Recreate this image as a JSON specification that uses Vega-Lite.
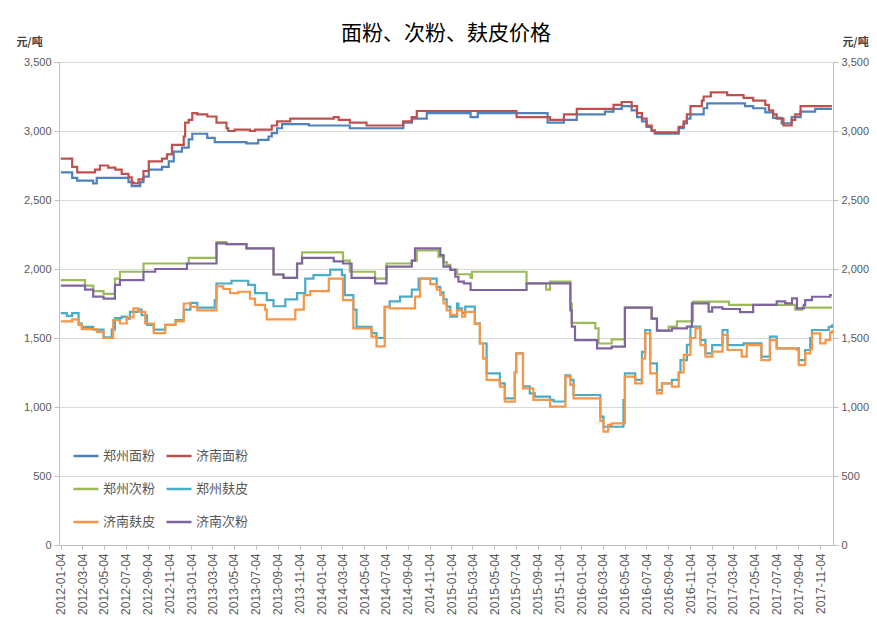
{
"$schema": "https://vega.github.io/schema/vega-lite/v6.json",
"width": 774, "height": 483,
"autosize": {"type": "none"},
"padding": {"left": 59, "top": 62, "right": 44, "bottom": 72},
"background": "white",
"title": {"text": "面粉、次粉、麸皮价格", "font": "Noto Sans CJK SC", "fontSize": 21, "fontWeight": "normal", "color": "#000000", "offset": -8, "anchor": "middle"},
"config": {"view": {"stroke": null}},
"data": {"values": [
{"series":"郑州面粉","date":"2012-01-04","price":2700},{"series":"郑州面粉","date":"2012-02-05","price":2660},{"series":"郑州面粉","date":"2012-02-19","price":2640},{"series":"郑州面粉","date":"2012-04-04","price":2620},{"series":"郑州面粉","date":"2012-04-14","price":2660},{"series":"郑州面粉","date":"2012-07-12","price":2630},{"series":"郑州面粉","date":"2012-07-21","price":2600},{"series":"郑州面粉","date":"2012-08-14","price":2630},{"series":"郑州面粉","date":"2012-08-23","price":2670},{"series":"郑州面粉","date":"2012-09-07","price":2720},{"series":"郑州面粉","date":"2012-10-14","price":2740},{"series":"郑州面粉","date":"2012-11-02","price":2780},{"series":"郑州面粉","date":"2012-11-16","price":2850},{"series":"郑州面粉","date":"2012-12-09","price":2880},{"series":"郑州面粉","date":"2012-12-28","price":2940},{"series":"郑州面粉","date":"2013-01-07","price":2980},{"series":"郑州面粉","date":"2013-02-18","price":2950},{"series":"郑州面粉","date":"2013-03-11","price":2920},{"series":"郑州面粉","date":"2013-06-08","price":2910},{"series":"郑州面粉","date":"2013-07-11","price":2935},{"series":"郑州面粉","date":"2013-08-09","price":2960},{"series":"郑州面粉","date":"2013-08-18","price":2985},{"series":"郑州面粉","date":"2013-09-02","price":3020},{"series":"郑州面粉","date":"2013-09-16","price":3050},{"series":"郑州面粉","date":"2013-11-30","price":3040},{"series":"郑州面粉","date":"2014-03-25","price":3020},{"series":"郑州面粉","date":"2014-08-22","price":3060},{"series":"郑州面粉","date":"2014-09-15","price":3090},{"series":"郑州面粉","date":"2014-10-27","price":3130},{"series":"郑州面粉","date":"2015-02-27","price":3100},{"series":"郑州面粉","date":"2015-03-19","price":3130},{"series":"郑州面粉","date":"2015-10-01","price":3060},{"series":"郑州面粉","date":"2015-11-16","price":3080},{"series":"郑州面粉","date":"2015-12-22","price":3120},{"series":"郑州面粉","date":"2016-03-10","price":3140},{"series":"郑州面粉","date":"2016-04-03","price":3160},{"series":"郑州面粉","date":"2016-04-26","price":3180},{"series":"郑州面粉","date":"2016-05-24","price":3150},{"series":"郑州面粉","date":"2016-06-08","price":3100},{"series":"郑州面粉","date":"2016-06-22","price":3070},{"series":"郑州面粉","date":"2016-07-05","price":3030},{"series":"郑州面粉","date":"2016-07-19","price":3000},{"series":"郑州面粉","date":"2016-07-28","price":2980},{"series":"郑州面粉","date":"2016-10-03","price":3020},{"series":"郑州面粉","date":"2016-10-17","price":3055},{"series":"郑州面粉","date":"2016-10-26","price":3090},{"series":"郑州面粉","date":"2016-11-05","price":3120},{"series":"郑州面粉","date":"2016-12-12","price":3165},{"series":"郑州面粉","date":"2016-12-22","price":3200},{"series":"郑州面粉","date":"2017-04-07","price":3180},{"series":"郑州面粉","date":"2017-04-30","price":3165},{"series":"郑州面粉","date":"2017-06-03","price":3135},{"series":"郑州面粉","date":"2017-06-25","price":3095},{"series":"郑州面粉","date":"2017-07-19","price":3055},{"series":"郑州面粉","date":"2017-08-16","price":3100},{"series":"郑州面粉","date":"2017-09-10","price":3140},{"series":"郑州面粉","date":"2017-10-21","price":3160},{"series":"郑州面粉","date":"2017-12-07","price":3160},

{"series":"济南面粉","date":"2012-01-04","price":2800},{"series":"济南面粉","date":"2012-02-05","price":2740},{"series":"济南面粉","date":"2012-02-19","price":2700},{"series":"济南面粉","date":"2012-04-09","price":2720},{"series":"济南面粉","date":"2012-04-23","price":2750},{"series":"济南面粉","date":"2012-05-16","price":2735},{"series":"济南面粉","date":"2012-06-05","price":2720},{"series":"济南面粉","date":"2012-06-23","price":2690},{"series":"济南面粉","date":"2012-07-12","price":2665},{"series":"济南面粉","date":"2012-07-21","price":2630},{"series":"济南面粉","date":"2012-07-25","price":2620},{"series":"济南面粉","date":"2012-08-09","price":2650},{"series":"济南面粉","date":"2012-08-23","price":2710},{"series":"济南面粉","date":"2012-09-07","price":2780},{"series":"济南面粉","date":"2012-10-14","price":2800},{"series":"济南面粉","date":"2012-10-28","price":2830},{"series":"济南面粉","date":"2012-11-11","price":2900},{"series":"济南面粉","date":"2012-12-14","price":2960},{"series":"济南面粉","date":"2012-12-18","price":3060},{"series":"济南面粉","date":"2012-12-28","price":3080},{"series":"济南面粉","date":"2013-01-07","price":3130},{"series":"济南面粉","date":"2013-01-21","price":3120},{"series":"济南面粉","date":"2013-02-18","price":3105},{"series":"济南面粉","date":"2013-03-16","price":3060},{"series":"济南面粉","date":"2013-04-13","price":3020},{"series":"济南面粉","date":"2013-04-18","price":3000},{"series":"济南面粉","date":"2013-05-06","price":3010},{"series":"济南面粉","date":"2013-06-18","price":3000},{"series":"济南面粉","date":"2013-07-02","price":3010},{"series":"济南面粉","date":"2013-08-18","price":3040},{"series":"济南面粉","date":"2013-09-02","price":3070},{"series":"济南面粉","date":"2013-10-09","price":3090},{"series":"济南面粉","date":"2014-02-08","price":3100},{"series":"济南面粉","date":"2014-02-22","price":3080},{"series":"济南面粉","date":"2014-03-25","price":3060},{"series":"济南面粉","date":"2014-05-11","price":3040},{"series":"济南面粉","date":"2014-08-22","price":3070},{"series":"济南面粉","date":"2014-09-15","price":3100},{"series":"济南面粉","date":"2014-09-29","price":3145},{"series":"济南面粉","date":"2015-07-06","price":3100},{"series":"济南面粉","date":"2015-10-08","price":3080},{"series":"济南面粉","date":"2015-11-16","price":3120},{"series":"济南面粉","date":"2015-12-22","price":3160},{"series":"济南面粉","date":"2016-04-03","price":3190},{"series":"济南面粉","date":"2016-04-26","price":3210},{"series":"济南面粉","date":"2016-05-24","price":3180},{"series":"济南面粉","date":"2016-06-08","price":3130},{"series":"济南面粉","date":"2016-06-22","price":3090},{"series":"济南面粉","date":"2016-07-05","price":3040},{"series":"济南面粉","date":"2016-07-19","price":3005},{"series":"济南面粉","date":"2016-07-28","price":2990},{"series":"济南面粉","date":"2016-10-03","price":3030},{"series":"济南面粉","date":"2016-10-17","price":3070},{"series":"济南面粉","date":"2016-10-26","price":3120},{"series":"济南面粉","date":"2016-11-05","price":3180},{"series":"济南面粉","date":"2016-12-07","price":3220},{"series":"济南面粉","date":"2016-12-12","price":3250},{"series":"济南面粉","date":"2017-01-01","price":3280},{"series":"济南面粉","date":"2017-02-16","price":3260},{"series":"济南面粉","date":"2017-04-03","price":3240},{"series":"济南面粉","date":"2017-04-30","price":3220},{"series":"济南面粉","date":"2017-06-03","price":3190},{"series":"济南面粉","date":"2017-06-13","price":3150},{"series":"济南面粉","date":"2017-06-25","price":3120},{"series":"济南面粉","date":"2017-07-05","price":3090},{"series":"济南面粉","date":"2017-07-24","price":3040},{"series":"济南面粉","date":"2017-08-16","price":3080},{"series":"济南面粉","date":"2017-08-26","price":3120},{"series":"济南面粉","date":"2017-09-10","price":3180},{"series":"济南面粉","date":"2017-12-07","price":3180},

{"series":"郑州次粉","date":"2012-01-04","price":1920},{"series":"郑州次粉","date":"2012-03-12","price":1880},{"series":"郑州次粉","date":"2012-04-04","price":1840},{"series":"郑州次粉","date":"2012-05-03","price":1820},{"series":"郑州次粉","date":"2012-06-04","price":1930},{"series":"郑州次粉","date":"2012-06-18","price":1980},{"series":"郑州次粉","date":"2012-08-23","price":2040},{"series":"郑州次粉","date":"2012-12-28","price":2080},{"series":"郑州次粉","date":"2013-03-16","price":2195},{"series":"郑州次粉","date":"2013-04-13","price":2180},{"series":"郑州次粉","date":"2013-06-08","price":2150},{"series":"郑州次粉","date":"2013-08-23","price":1960},{"series":"郑州次粉","date":"2013-09-20","price":1935},{"series":"郑州次粉","date":"2013-10-28","price":2040},{"series":"郑州次粉","date":"2013-11-11","price":2120},{"series":"郑州次粉","date":"2014-03-06","price":2060},{"series":"郑州次粉","date":"2014-03-25","price":1980},{"series":"郑州次粉","date":"2014-06-04","price":1930},{"series":"郑州次粉","date":"2014-07-06","price":2040},{"series":"郑州次粉","date":"2014-09-15","price":2060},{"series":"郑州次粉","date":"2014-09-29","price":2135},{"series":"郑州次粉","date":"2014-11-29","price":2090},{"series":"郑州次粉","date":"2014-12-13","price":2050},{"series":"郑州次粉","date":"2014-12-22","price":2030},{"series":"郑州次粉","date":"2015-01-01","price":1995},{"series":"郑州次粉","date":"2015-01-20","price":1962},{"series":"郑州次粉","date":"2015-02-27","price":1935},{"series":"郑州次粉","date":"2015-03-03","price":1980},{"series":"郑州次粉","date":"2015-08-03","price":1895},{"series":"郑州次粉","date":"2015-09-27","price":1850},{"series":"郑州次粉","date":"2015-10-08","price":1908},{"series":"郑州次粉","date":"2015-12-04","price":1750},{"series":"郑州次粉","date":"2015-12-08","price":1610},{"series":"郑州次粉","date":"2016-02-12","price":1570},{"series":"郑州次粉","date":"2016-02-21","price":1460},{"series":"郑州次粉","date":"2016-03-29","price":1490},{"series":"郑州次粉","date":"2016-05-05","price":1720},{"series":"郑州次粉","date":"2016-07-19","price":1640},{"series":"郑州次粉","date":"2016-08-03","price":1553},{"series":"郑州次粉","date":"2016-09-05","price":1582},{"series":"郑州次粉","date":"2016-09-28","price":1620},{"series":"郑州次粉","date":"2016-11-12","price":1763},{"series":"郑州次粉","date":"2017-02-21","price":1740},{"series":"郑州次粉","date":"2017-08-26","price":1705},{"series":"郑州次粉","date":"2017-09-14","price":1720},{"series":"郑州次粉","date":"2017-12-07","price":1720},

{"series":"郑州麸皮","date":"2012-01-04","price":1680},{"series":"郑州麸皮","date":"2012-01-21","price":1660},{"series":"郑州麸皮","date":"2012-02-05","price":1680},{"series":"郑州麸皮","date":"2012-02-23","price":1605},{"series":"郑州麸皮","date":"2012-03-03","price":1580},{"series":"郑州麸皮","date":"2012-04-04","price":1560},{"series":"郑州麸皮","date":"2012-05-03","price":1505},{"series":"郑州麸皮","date":"2012-05-26","price":1560},{"series":"郑州麸皮","date":"2012-06-04","price":1645},{"series":"郑州麸皮","date":"2012-06-23","price":1655},{"series":"郑州麸皮","date":"2012-07-07","price":1640},{"series":"郑州麸皮","date":"2012-07-16","price":1690},{"series":"郑州麸皮","date":"2012-08-09","price":1705},{"series":"郑州麸皮","date":"2012-08-18","price":1665},{"series":"郑州麸皮","date":"2012-09-02","price":1595},{"series":"郑州麸皮","date":"2012-09-21","price":1560},{"series":"郑州麸皮","date":"2012-10-23","price":1595},{"series":"郑州麸皮","date":"2012-11-21","price":1630},{"series":"郑州麸皮","date":"2012-12-14","price":1705},{"series":"郑州麸皮","date":"2013-01-02","price":1755},{"series":"郑州麸皮","date":"2013-01-21","price":1720},{"series":"郑州麸皮","date":"2013-03-11","price":1775},{"series":"郑州麸皮","date":"2013-03-16","price":1895},{"series":"郑州麸皮","date":"2013-04-27","price":1915},{"series":"郑州麸皮","date":"2013-06-13","price":1885},{"series":"郑州麸皮","date":"2013-07-02","price":1825},{"series":"郑州麸皮","date":"2013-08-04","price":1775},{"series":"郑州麸皮","date":"2013-08-23","price":1730},{"series":"郑州麸皮","date":"2013-09-25","price":1780},{"series":"郑州麸皮","date":"2013-10-28","price":1825},{"series":"郑州麸皮","date":"2013-11-20","price":1930},{"series":"郑州麸皮","date":"2013-12-13","price":1955},{"series":"郑州麸皮","date":"2014-01-29","price":1995},{"series":"郑州麸皮","date":"2014-03-03","price":1955},{"series":"郑州麸皮","date":"2014-03-11","price":1810},{"series":"郑州麸皮","date":"2014-04-04","price":1705},{"series":"郑州麸皮","date":"2014-04-13","price":1580},{"series":"郑州麸皮","date":"2014-05-25","price":1535},{"series":"郑州麸皮","date":"2014-06-08","price":1500},{"series":"郑州麸皮","date":"2014-07-01","price":1725},{"series":"郑州麸皮","date":"2014-07-15","price":1765},{"series":"郑州麸皮","date":"2014-08-13","price":1800},{"series":"郑州麸皮","date":"2014-09-15","price":1850},{"series":"郑州麸皮","date":"2014-10-04","price":1930},{"series":"郑州麸皮","date":"2014-11-24","price":1870},{"series":"郑州麸皮","date":"2014-12-04","price":1830},{"series":"郑州麸皮","date":"2014-12-13","price":1780},{"series":"郑州麸皮","date":"2014-12-22","price":1727},{"series":"郑州麸皮","date":"2015-01-01","price":1655},{"series":"郑州麸皮","date":"2015-01-20","price":1750},{"series":"郑州麸皮","date":"2015-01-24","price":1715},{"series":"郑州麸皮","date":"2015-02-03","price":1680},{"series":"郑州麸皮","date":"2015-02-12","price":1727},{"series":"郑州麸皮","date":"2015-03-11","price":1606},{"series":"郑州麸皮","date":"2015-03-25","price":1460},{"series":"郑州麸皮","date":"2015-04-13","price":1244},{"series":"郑州麸皮","date":"2015-05-20","price":1171},{"series":"郑州麸皮","date":"2015-06-03","price":1063},{"series":"郑州麸皮","date":"2015-07-01","price":1250},{"series":"郑州麸皮","date":"2015-07-05","price":1389},{"series":"郑州麸皮","date":"2015-07-24","price":1150},{"series":"郑州麸皮","date":"2015-08-12","price":1099},{"series":"郑州麸皮","date":"2015-08-26","price":1075},{"series":"郑州麸皮","date":"2015-10-08","price":1051},{"series":"郑州麸皮","date":"2015-10-18","price":1040},{"series":"郑州麸皮","date":"2015-11-20","price":1230},{"series":"郑州麸皮","date":"2015-12-04","price":1196},{"series":"郑州麸皮","date":"2015-12-13","price":1087},{"series":"郑州麸皮","date":"2016-02-26","price":930},{"series":"郑州麸皮","date":"2016-03-06","price":857},{"series":"郑州麸皮","date":"2016-05-01","price":1050},{"series":"郑州麸皮","date":"2016-05-05","price":1244},{"series":"郑州麸皮","date":"2016-06-03","price":1196},{"series":"郑州麸皮","date":"2016-06-22","price":1400},{"series":"郑州麸皮","date":"2016-07-01","price":1558},{"series":"郑州麸皮","date":"2016-07-15","price":1316},{"series":"郑州麸皮","date":"2016-08-03","price":1123},{"series":"郑州麸皮","date":"2016-08-17","price":1171},{"series":"郑州麸皮","date":"2016-09-14","price":1196},{"series":"郑州麸皮","date":"2016-10-03","price":1250},{"series":"郑州麸皮","date":"2016-10-08","price":1340},{"series":"郑州麸皮","date":"2016-10-26","price":1450},{"series":"郑州麸皮","date":"2016-11-05","price":1582},{"series":"郑州麸皮","date":"2016-12-03","price":1485},{"series":"郑州麸皮","date":"2016-12-17","price":1389},{"series":"郑州麸皮","date":"2017-01-05","price":1449},{"series":"郑州麸皮","date":"2017-02-03","price":1558},{"series":"郑州麸皮","date":"2017-02-17","price":1449},{"series":"郑州麸皮","date":"2017-04-03","price":1461},{"series":"郑州麸皮","date":"2017-05-23","price":1365},{"series":"郑州麸皮","date":"2017-06-16","price":1510},{"series":"郑州麸皮","date":"2017-07-05","price":1425},{"series":"郑州麸皮","date":"2017-09-05","price":1340},{"series":"郑州麸皮","date":"2017-09-23","price":1413},{"series":"郑州麸皮","date":"2017-10-07","price":1500},{"series":"郑州麸皮","date":"2017-10-12","price":1558},{"series":"郑州麸皮","date":"2017-11-28","price":1580},{"series":"郑州麸皮","date":"2017-12-07","price":1600},

{"series":"济南麸皮","date":"2012-01-04","price":1620},{"series":"济南麸皮","date":"2012-02-05","price":1635},{"series":"济南麸皮","date":"2012-02-23","price":1595},{"series":"济南麸皮","date":"2012-03-03","price":1565},{"series":"济南麸皮","date":"2012-04-14","price":1545},{"series":"济南麸皮","date":"2012-05-03","price":1500},{"series":"济南麸皮","date":"2012-05-30","price":1630},{"series":"济南麸皮","date":"2012-06-18","price":1605},{"series":"济南麸皮","date":"2012-07-07","price":1650},{"series":"济南麸皮","date":"2012-07-26","price":1715},{"series":"济南麸皮","date":"2012-08-09","price":1690},{"series":"济南麸皮","date":"2012-08-28","price":1605},{"series":"济南麸皮","date":"2012-09-21","price":1535},{"series":"济南麸皮","date":"2012-10-23","price":1595},{"series":"济南麸皮","date":"2012-11-21","price":1620},{"series":"济南麸皮","date":"2012-12-14","price":1750},{"series":"济南麸皮","date":"2013-01-02","price":1725},{"series":"济南麸皮","date":"2013-01-21","price":1700},{"series":"济南麸皮","date":"2013-03-16","price":1875},{"series":"济南麸皮","date":"2013-04-04","price":1855},{"series":"济南麸皮","date":"2013-04-23","price":1825},{"series":"济南麸皮","date":"2013-05-16","price":1835},{"series":"济南麸皮","date":"2013-06-18","price":1785},{"series":"济南麸皮","date":"2013-07-02","price":1740},{"series":"济南麸皮","date":"2013-07-30","price":1705},{"series":"济南麸皮","date":"2013-08-04","price":1635},{"series":"济南麸皮","date":"2013-10-23","price":1705},{"series":"济南麸皮","date":"2013-11-16","price":1810},{"series":"济南麸皮","date":"2013-12-04","price":1840},{"series":"济南麸皮","date":"2014-01-25","price":1930},{"series":"济南麸皮","date":"2014-03-06","price":1775},{"series":"济南麸皮","date":"2014-04-04","price":1570},{"series":"济南麸皮","date":"2014-05-25","price":1510},{"series":"济南麸皮","date":"2014-06-08","price":1440},{"series":"济南麸皮","date":"2014-07-01","price":1725},{"series":"济南麸皮","date":"2014-07-15","price":1715},{"series":"济南麸皮","date":"2014-09-24","price":1800},{"series":"济南麸皮","date":"2014-10-08","price":1930},{"series":"济南麸皮","date":"2014-11-06","price":1890},{"series":"济南麸皮","date":"2014-11-24","price":1850},{"series":"济南麸皮","date":"2014-12-04","price":1810},{"series":"济南麸皮","date":"2014-12-13","price":1750},{"series":"济南麸皮","date":"2014-12-22","price":1700},{"series":"济南麸皮","date":"2015-01-01","price":1667},{"series":"济南麸皮","date":"2015-01-20","price":1700},{"series":"济南麸皮","date":"2015-02-03","price":1655},{"series":"济南麸皮","date":"2015-02-12","price":1690},{"series":"济南麸皮","date":"2015-03-11","price":1600},{"series":"济南麸皮","date":"2015-03-25","price":1461},{"series":"济南麸皮","date":"2015-04-03","price":1350},{"series":"济南麸皮","date":"2015-04-13","price":1196},{"series":"济南麸皮","date":"2015-05-20","price":1147},{"series":"济南麸皮","date":"2015-06-03","price":1039},{"series":"济南麸皮","date":"2015-07-01","price":1250},{"series":"济南麸皮","date":"2015-07-05","price":1389},{"series":"济南麸皮","date":"2015-07-24","price":1135},{"series":"济南麸皮","date":"2015-08-22","price":1051},{"series":"济南麸皮","date":"2015-10-08","price":1002},{"series":"济南麸皮","date":"2015-11-20","price":1220},{"series":"济南麸皮","date":"2015-12-04","price":1160},{"series":"济南麸皮","date":"2015-12-13","price":1063},{"series":"济南麸皮","date":"2016-02-26","price":900},{"series":"济南麸皮","date":"2016-03-06","price":821},{"series":"济南麸皮","date":"2016-03-19","price":870},{"series":"济南麸皮","date":"2016-03-29","price":882},{"series":"济南麸皮","date":"2016-05-05","price":1220},{"series":"济南麸皮","date":"2016-06-03","price":1171},{"series":"济南麸皮","date":"2016-06-22","price":1350},{"series":"济南麸皮","date":"2016-07-01","price":1534},{"series":"济南麸皮","date":"2016-07-15","price":1244},{"series":"济南麸皮","date":"2016-08-03","price":1099},{"series":"济南麸皮","date":"2016-08-17","price":1171},{"series":"济南麸皮","date":"2016-09-14","price":1147},{"series":"济南麸皮","date":"2016-10-03","price":1250},{"series":"济南麸皮","date":"2016-10-17","price":1377},{"series":"济南麸皮","date":"2016-11-05","price":1500},{"series":"济南麸皮","date":"2016-11-19","price":1570},{"series":"济南麸皮","date":"2016-12-03","price":1449},{"series":"济南麸皮","date":"2016-12-17","price":1365},{"series":"济南麸皮","date":"2017-01-05","price":1401},{"series":"济南麸皮","date":"2017-02-03","price":1522},{"series":"济南麸皮","date":"2017-02-17","price":1413},{"series":"济南麸皮","date":"2017-03-29","price":1365},{"series":"济南麸皮","date":"2017-04-12","price":1449},{"series":"济南麸皮","date":"2017-05-23","price":1340},{"series":"济南麸皮","date":"2017-06-16","price":1485},{"series":"济南麸皮","date":"2017-07-05","price":1425},{"series":"济南麸皮","date":"2017-08-31","price":1413},{"series":"济南麸皮","date":"2017-09-05","price":1304},{"series":"济南麸皮","date":"2017-09-23","price":1389},{"series":"济南麸皮","date":"2017-10-07","price":1420},{"series":"济南麸皮","date":"2017-10-12","price":1534},{"series":"济南麸皮","date":"2017-11-04","price":1461},{"series":"济南麸皮","date":"2017-11-19","price":1485},{"series":"济南麸皮","date":"2017-12-02","price":1540},{"series":"济南麸皮","date":"2017-12-07","price":1558},

{"series":"济南次粉","date":"2012-01-04","price":1880},{"series":"济南次粉","date":"2012-03-12","price":1850},{"series":"济南次粉","date":"2012-04-04","price":1800},{"series":"济南次粉","date":"2012-05-03","price":1785},{"series":"济南次粉","date":"2012-06-04","price":1885},{"series":"济南次粉","date":"2012-06-18","price":1920},{"series":"济南次粉","date":"2012-08-23","price":1980},{"series":"济南次粉","date":"2012-09-25","price":2000},{"series":"济南次粉","date":"2012-12-23","price":2040},{"series":"济南次粉","date":"2013-03-16","price":2186},{"series":"济南次粉","date":"2013-04-13","price":2180},{"series":"济南次粉","date":"2013-06-08","price":2150},{"series":"济南次粉","date":"2013-08-23","price":1960},{"series":"济南次粉","date":"2013-09-20","price":1935},{"series":"济南次粉","date":"2013-10-28","price":2040},{"series":"济南次粉","date":"2013-11-11","price":2080},{"series":"济南次粉","date":"2014-02-08","price":2055},{"series":"济南次粉","date":"2014-03-06","price":2040},{"series":"济南次粉","date":"2014-03-30","price":1935},{"series":"济南次粉","date":"2014-06-04","price":1896},{"series":"济南次粉","date":"2014-07-06","price":2017},{"series":"济南次粉","date":"2014-09-15","price":2060},{"series":"济南次粉","date":"2014-09-24","price":2150},{"series":"济南次粉","date":"2014-11-19","price":2150},{"series":"济南次粉","date":"2014-12-04","price":2100},{"series":"济南次粉","date":"2014-12-13","price":2017},{"series":"济南次粉","date":"2015-01-01","price":1993},{"series":"济南次粉","date":"2015-01-15","price":1944},{"series":"济南次粉","date":"2015-01-24","price":1908},{"series":"济南次粉","date":"2015-02-08","price":1896},{"series":"济南次粉","date":"2015-02-27","price":1848},{"series":"济南次粉","date":"2015-08-03","price":1896},{"series":"济南次粉","date":"2015-12-04","price":1700},{"series":"济南次粉","date":"2015-12-08","price":1582},{"series":"济南次粉","date":"2015-12-17","price":1485},{"series":"济南次粉","date":"2016-02-17","price":1425},{"series":"济南次粉","date":"2016-03-29","price":1437},{"series":"济南次粉","date":"2016-05-05","price":1720},{"series":"济南次粉","date":"2016-07-19","price":1640},{"series":"济南次粉","date":"2016-08-03","price":1553},{"series":"济南次粉","date":"2016-09-14","price":1570},{"series":"济南次粉","date":"2016-10-26","price":1582},{"series":"济南次粉","date":"2016-11-09","price":1751},{"series":"济南次粉","date":"2016-12-26","price":1691},{"series":"济南次粉","date":"2017-01-05","price":1722},{"series":"济南次粉","date":"2017-02-03","price":1710},{"series":"济南次粉","date":"2017-03-24","price":1687},{"series":"济南次粉","date":"2017-04-30","price":1740},{"series":"济南次粉","date":"2017-07-05","price":1765},{"series":"济南次粉","date":"2017-07-29","price":1751},{"series":"济南次粉","date":"2017-08-17","price":1787},{"series":"济南次粉","date":"2017-08-31","price":1715},{"series":"济南次粉","date":"2017-09-19","price":1740},{"series":"济南次粉","date":"2017-09-23","price":1775},{"series":"济南次粉","date":"2017-10-12","price":1799},{"series":"济南次粉","date":"2017-12-02","price":1811},{"series":"济南次粉","date":"2017-12-07","price":1811}
]},
"layer": [
{
"mark": {"type": "line", "interpolate": "step-after", "strokeWidth": 2.2},
"encoding": {
"x": {"field": "date", "type": "temporal",
 "scale": {"type": "utc", "domain": [{"year":2011,"month":12,"date":30,"utc":true},{"year":2017,"month":12,"date":10,"utc":true}]},
 "axis": {"title": null, "labelExpr": "utcFormat(datum.value, '%Y-%m-%d')", "labelAngle": -90, "labelAlign": "right", "labelBaseline": "middle", "labelFontSize": 12, "labelFont": "Liberation Sans", "labelColor": "#595959", "labelOverlap": false, "labelPadding": 4, "tickSize": 4, "tickColor": "#bfbfbf", "domainColor": "#bfbfbf", "grid": false,
 "values": [{"year":2012,"month":1,"date":4,"utc":true},{"year":2012,"month":3,"date":4,"utc":true},{"year":2012,"month":5,"date":4,"utc":true},{"year":2012,"month":7,"date":4,"utc":true},{"year":2012,"month":9,"date":4,"utc":true},{"year":2012,"month":11,"date":4,"utc":true},{"year":2013,"month":1,"date":4,"utc":true},{"year":2013,"month":3,"date":4,"utc":true},{"year":2013,"month":5,"date":4,"utc":true},{"year":2013,"month":7,"date":4,"utc":true},{"year":2013,"month":9,"date":4,"utc":true},{"year":2013,"month":11,"date":4,"utc":true},{"year":2014,"month":1,"date":4,"utc":true},{"year":2014,"month":3,"date":4,"utc":true},{"year":2014,"month":5,"date":4,"utc":true},{"year":2014,"month":7,"date":4,"utc":true},{"year":2014,"month":9,"date":4,"utc":true},{"year":2014,"month":11,"date":4,"utc":true},{"year":2015,"month":1,"date":4,"utc":true},{"year":2015,"month":3,"date":4,"utc":true},{"year":2015,"month":5,"date":4,"utc":true},{"year":2015,"month":7,"date":4,"utc":true},{"year":2015,"month":9,"date":4,"utc":true},{"year":2015,"month":11,"date":4,"utc":true},{"year":2016,"month":1,"date":4,"utc":true},{"year":2016,"month":3,"date":4,"utc":true},{"year":2016,"month":5,"date":4,"utc":true},{"year":2016,"month":7,"date":4,"utc":true},{"year":2016,"month":9,"date":4,"utc":true},{"year":2016,"month":11,"date":4,"utc":true},{"year":2017,"month":1,"date":4,"utc":true},{"year":2017,"month":3,"date":4,"utc":true},{"year":2017,"month":5,"date":4,"utc":true},{"year":2017,"month":7,"date":4,"utc":true},{"year":2017,"month":9,"date":4,"utc":true},{"year":2017,"month":11,"date":4,"utc":true}]}},
"y": {"field": "price", "type": "quantitative",
 "scale": {"domain": [0, 3500], "nice": false},
 "axis": {"orient": "left", "values": [0,500,1000,1500,2000,2500,3000,3500], "format": ",d", "labelFont": "Liberation Sans", "labelFontSize": 11, "labelColor": "#595959", "labelPadding": 3, "tickSize": 5, "tickColor": "#bfbfbf", "domainColor": "#bfbfbf", "grid": true, "gridColor": "#d9d9d9",
 "title": "元/吨", "titleAngle": 0, "titleX": -30, "titleY": -20, "titleAlign": "center", "titleBaseline": "middle", "titleFont": "Noto Sans CJK SC", "titleFontSize": 11, "titleFontWeight": "bold", "titleColor": "#404040"}},
"color": {"field": "series", "type": "nominal",
 "scale": {"domain": ["郑州面粉","济南面粉","郑州次粉","郑州麸皮","济南麸皮","济南次粉"], "range": ["#4F81BD","#C0504D","#9BBB59","#4BACC6","#F79646","#8064A2"]},
 "legend": {"title": null, "orient": "none", "legendX": 13, "legendY": 380, "columns": 2, "direction": "horizontal", "symbolType": "stroke", "symbolSize": 625, "symbolStrokeWidth": 2.5, "labelFont": "Noto Sans CJK SC", "labelFontSize": 13, "labelColor": "#595959", "labelOffset": 3, "rowPadding": 12, "columnPadding": 5, "padding": 0}}
}
},
{
"mark": {"type": "line", "opacity": 0},
"encoding": {
"y": {"field": "price", "type": "quantitative",
 "axis": {"orient": "right", "values": [0,500,1000,1500,2000,2500,3000,3500], "format": ",d", "labelFont": "Liberation Sans", "labelFontSize": 11, "labelColor": "#595959", "labelPadding": 3, "tickSize": 5, "tickColor": "#bfbfbf", "domainColor": "#bfbfbf", "grid": false,
 "title": "元/吨", "titleAngle": 0, "titleX": 22, "titleY": -20, "titleAlign": "center", "titleBaseline": "middle", "titleFont": "Noto Sans CJK SC", "titleFontSize": 11, "titleFontWeight": "bold", "titleColor": "#404040"}},
"detail": {"field": "series"}
}
}
],
"resolve": {"scale": {"y": "shared"}, "axis": {"y": "independent"}}
}
